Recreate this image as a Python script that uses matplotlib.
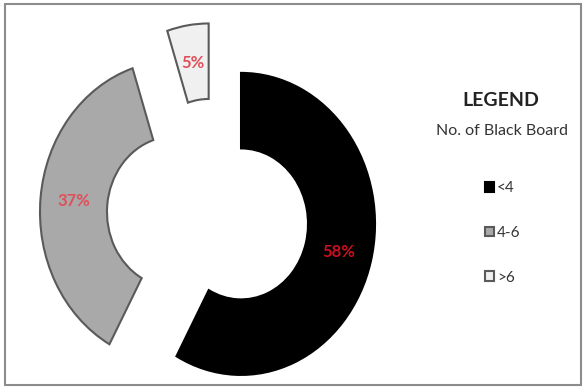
import matplotlib.pyplot as plt
from matplotlib.patches import Rectangle

# datos del gráfico
categorias = ['<4', '4-6', '>6']
valores = [58, 37, 5]
colores = ['#000000', '#a9a9a9', '#f0f0f0']
bordes = ['#000000', '#5a5a5a', '#5a5a5a']
separacion = [0.204, 0.304, 0.28]
colores_pct = ['#c8101e', '#e0505a', '#e0505a']

plt.rcParams['font.family'] = ['Lato', 'DejaVu Sans']

fig = plt.figure(figsize=(5.86, 3.89), dpi=100)
ax = fig.add_axes([0, 0, 1, 1])

wedges, textos, pcts = ax.pie(valores, colors=colores, explode=separacion,
                              startangle=90, counterclock=False,
                              autopct='%1.0f%%', pctdistance=0.75,
                              wedgeprops=dict(width=0.5, linewidth=1.5))
for w, b in zip(wedges, bordes):
    w.set_edgecolor(b)
for t, c in zip(pcts, colores_pct):
    t.set_color(c)
    t.set_fontsize(12)
    t.set_fontweight('bold')

ax.set_aspect('auto')
ax.set_xlim(-1.601, 2.772)
ax.set_ylim(-1.144, 1.432)
ax.axis('off')

# leyenda
fig.text(501 / 586, 1 - 101 / 389, 'LEGEND', ha='center', va='center',
         fontsize=14, fontweight='bold', color='#222222')
fig.text(502 / 586, 1 - 131 / 389, 'No. of Black Board', ha='center',
         va='center', fontsize=11.5, color='#333333')
fig.legend(wedges, categorias, loc='center left',
           bbox_to_anchor=(485 / 586, 1 - 233 / 389), frameon=False,
           fontsize=11, handlelength=0.6, handleheight=0.6,
           handletextpad=0.2, labelspacing=2.0, borderpad=0,
           borderaxespad=0, labelcolor='#333333')

# marco exterior
fig.patches.append(Rectangle((5 / 586, 4 / 389), 576 / 586, 381 / 389,
                             transform=fig.transFigure, fill=False,
                             edgecolor='#8c8c8c', linewidth=1.5))

plt.savefig('out.png', dpi=100)
plt.close()
